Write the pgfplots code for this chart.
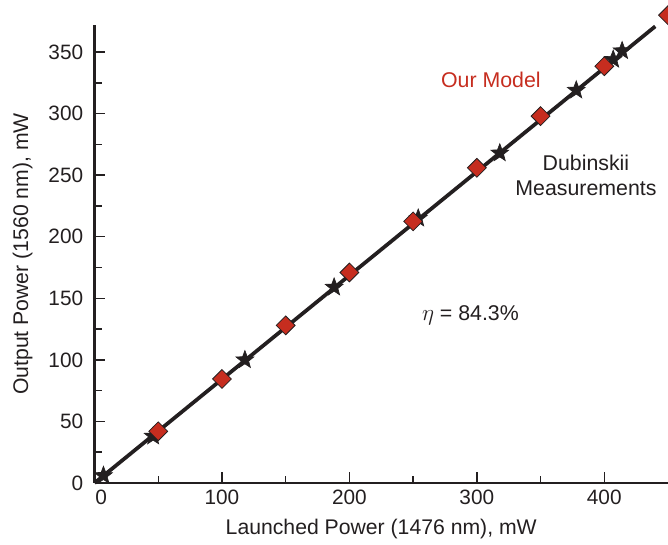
\documentclass[border=0pt]{standalone}
\usepackage{pgfplots}
\pgfplotsset{compat=1.18}
\usepackage{fontspec}
\setmainfont{Liberation Sans}
\definecolor{modred}{HTML}{C62D1F}
\definecolor{ink}{HTML}{231F20}
\pgfdeclareplotmark{fstar}{%
  \pgfpathmoveto{\pgfpointpolar{90}{\pgfplotmarksize}}%
  \pgfpathlineto{\pgfpointpolar{126}{0.42\pgfplotmarksize}}%
  \pgfpathlineto{\pgfpointpolar{162}{\pgfplotmarksize}}%
  \pgfpathlineto{\pgfpointpolar{198}{0.42\pgfplotmarksize}}%
  \pgfpathlineto{\pgfpointpolar{234}{\pgfplotmarksize}}%
  \pgfpathlineto{\pgfpointpolar{270}{0.42\pgfplotmarksize}}%
  \pgfpathlineto{\pgfpointpolar{306}{\pgfplotmarksize}}%
  \pgfpathlineto{\pgfpointpolar{342}{0.42\pgfplotmarksize}}%
  \pgfpathlineto{\pgfpointpolar{18}{\pgfplotmarksize}}%
  \pgfpathlineto{\pgfpointpolar{54}{0.42\pgfplotmarksize}}%
  \pgfpathclose
  \pgfusepathqfillstroke}
\begin{document}
\begin{tikzpicture}
\begin{axis}[
  name=ax,
  x=0.9558pt, y=0.9234pt,
  xmin=0, xmax=450, ymin=0, ymax=372,
  axis lines=left,
  axis line style={-, line width=1.8pt, ink},
  xtick={100,200,300,400},
  extra x ticks={0},
  extra x tick style={major tick length=0pt, xticklabel style={xshift=5pt}},
  minor xtick={50,150,250,350},
  ytick={0,50,...,350},
  minor ytick={25,75,...,325},
  tick align=inside,
  major tick length=8pt, minor tick length=5.5pt,
  tick style={line width=1.1pt, ink},
  /pgf/number format/assume math mode=true,
  ticklabel style={font=\fontsize{15.6}{18}\selectfont, text=ink},
  yticklabel style={xshift=-5pt},
  xticklabel style={yshift=-2pt},
  xlabel={Launched Power (1476 nm), mW},
  ylabel={Output Power (1560 nm), mW},
  xlabel style={yshift=-4pt},
  ylabel style={yshift=5pt},
  label style={font=\fontsize{15.9}{18}\selectfont, text=ink},
  clip=false,
]
\addplot[ink, line width=2.8pt] coordinates {(0,0) (440,370.9)};
\addplot[only marks, mark=fstar, mark size=7pt, mark options={fill=ink, draw=ink, line width=0.5pt}]
  coordinates {(7,6) (46,38) (118,100) (188,159) (254,215) (318,268) (378,319) (407,344) (414,351)};
\addplot[only marks, mark=square*, mark size=5pt, mark options={fill=modred, draw=ink, line width=0.6pt, rotate=45}]
  coordinates {(50,42) (100,84.5) (150,128) (200,171) (250,212.5) (300,256) (350,298) (400,338.5) (450,380)};
\node[text=modred, font=\fontsize{16}{18}\selectfont] at (axis cs:311,327.6) {Our Model};
\node[text=ink, font=\fontsize{16}{19}\selectfont, align=center] at (axis cs:385.6,250) {Dubinskii\\Measurements};
\node[text=ink, font=\fontsize{16}{18}\selectfont] at (axis cs:295,136.6) {$\eta$ = 84.3\%};
\end{axis}
\pgfresetboundingbox
\useasboundingbox ([xshift=-70.9pt,yshift=-46.5pt]ax.south west) rectangle ([yshift=18.75pt]ax.north east);
\end{tikzpicture}
\end{document}
